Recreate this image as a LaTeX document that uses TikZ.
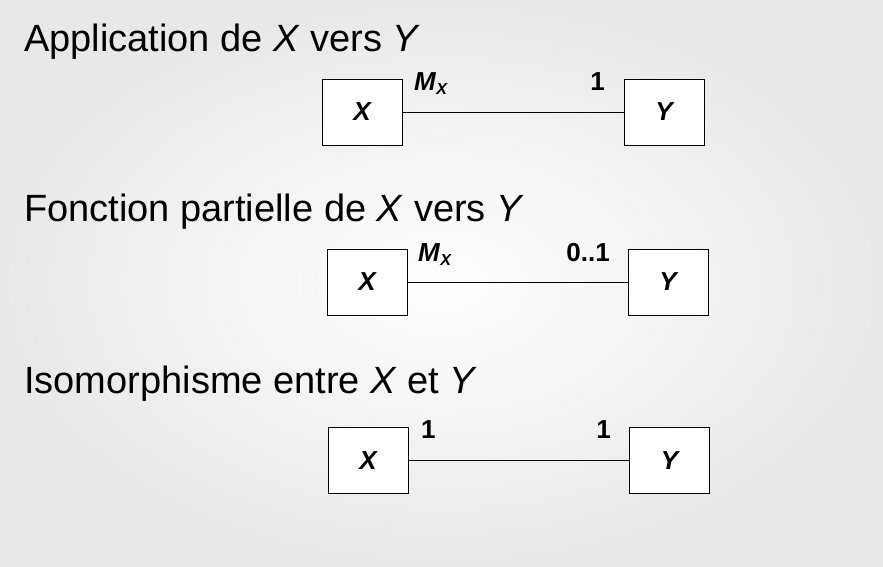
\documentclass[tikz,border=0pt]{standalone}
\usepackage{fontspec}
\setmainfont{Liberation Sans}
\usepackage{xcolor}
\usetikzlibrary{positioning}

\tikzset{
  entity/.style={draw, semithick, fill=white, minimum width=80pt, minimum height=66pt,
    inner sep=0pt, font=\fontsize{26}{28}\selectfont\bfseries\itshape},
  heading/.style={anchor=base west, inner sep=0pt, font=\fontsize{38}{40}\selectfont},
  card/.style={inner sep=0pt, font=\fontsize{26}{28}\selectfont\bfseries}
}
\newcommand{\mxlabel}{\textit{M}\raisebox{-4pt}{\fontsize{16}{16}\selectfont\itshape X}}

\begin{document}
\begin{tikzpicture}[x=1pt, y=-1pt]
    % Background
    \shade[inner color=white, outer color=black!9] (0,0) rectangle (883,566);
    \useasboundingbox (0,0) rectangle (883,566);

    % Application
    \node[heading] (t1) at (24,51) {Application de \textit{X} vers \textit{Y}};
    \node[entity] (x1) at (362,112) {X};
    \node[entity] (y1) at (664,112) {Y};
    \draw (x1.east) -- (y1.west);
    \node[card, anchor=base west] (m1) at (414,90) {\mxlabel};
    \node[card, anchor=base east] (c1) at (605,90) {1};

    % Fonction partielle
    \node[heading] (t2) at (24,221) {Fonction partielle de \textit{X} vers \textit{Y}};
    \node[entity] (x2) at (367,282) {X};
    \node[entity] (y2) at (668,282) {Y};
    \draw (x2.east) -- (y2.west);
    \node[card, anchor=base west] (m2) at (418,261) {\mxlabel};
    \node[card, anchor=base east] (c2) at (610,261) {0..1};

    % Isomorphisme
    \node[heading] (t3) at (24,393) {Isomorphisme entre \textit{X} et \textit{Y}};
    \node[entity] (x3) at (368,460.5) {X};
    \node[entity] (y3) at (669.5,460.5) {Y};
    \draw (x3.east) -- (y3.west);
    \node[card, anchor=base west] (m3) at (421,438) {1};
    \node[card, anchor=base east] (c3) at (611,438) {1};
\end{tikzpicture}
\end{document}
